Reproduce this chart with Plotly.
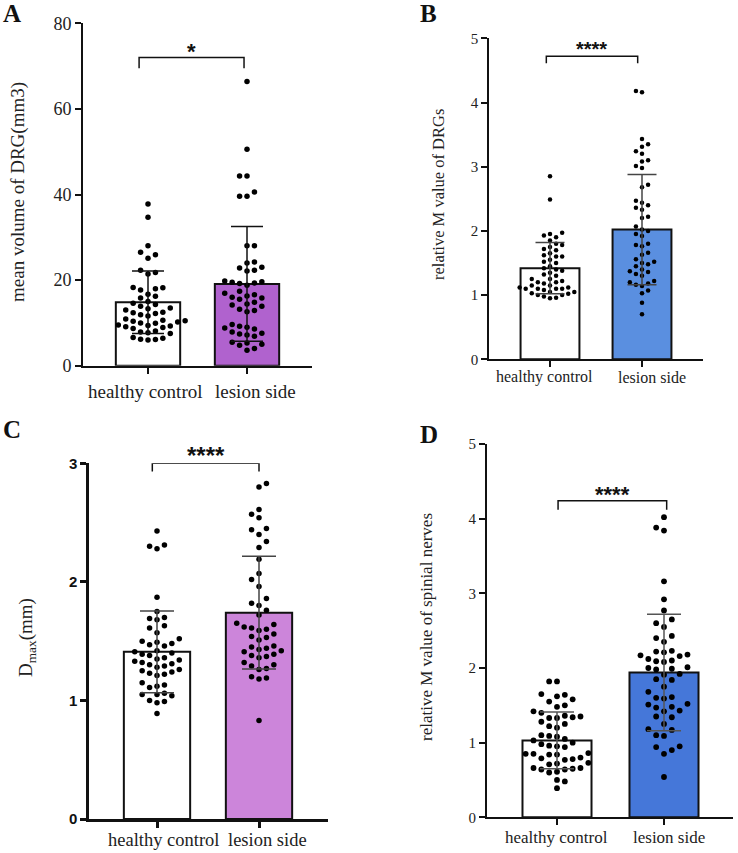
import plotly.graph_objects as go

W, H = 738, 853
categories = ["healthy control", "lesion side"]

# ---------------- data ----------------
a_healthy = [37.8, 34.7, 28.0, 26.5, 25.9, 25.1, 22.3, 21.8, 21.4,
             18.3, 18.2, 18.0, 17.7, 16.7, 16.2, 15.8,
             15.0, 14.6, 14.3, 13.9, 13.5, 13.3, 13.0,
             12.5, 12.4, 12.2, 11.9, 11.6,
             10.9, 10.6, 10.5, 10.4, 10.2, 10.0, 9.9,
             9.5, 9.4, 9.3, 9.1, 8.9, 8.7,
             8.1, 7.9, 7.7, 7.5, 6.6, 6.4, 6.2, 6.1, 6.0]
a_lesion = [66.4, 50.6, 44.3, 44.3, 40.6, 39.6, 39.6, 28.0, 28.0, 24.2, 24.0,
            23.0, 22.8, 22.3, 22.1, 19.8, 19.6, 19.5, 19.3, 19.2, 18.8,
            17.4, 16.9, 16.6, 16.3, 16.0, 15.8, 15.5, 14.8, 14.4, 14.2, 13.9,
            13.2, 12.9, 12.6, 9.6, 9.2, 9.0, 8.8, 8.6, 7.9, 7.6, 7.4, 7.2, 6.9,
            5.5, 5.3, 5.0, 4.8, 4.0, 3.6]
a_mean = [14.8, 19.1]
a_sd = [7.3, 13.4]

b_healthy = [2.85, 2.49, 1.97, 1.95, 1.93, 1.90, 1.85, 1.80, 1.78, 1.75, 1.72,
             1.70, 1.65, 1.62, 1.60, 1.60, 1.55, 1.52, 1.50, 1.45, 1.42, 1.40,
             1.38, 1.35, 1.32, 1.30, 1.25, 1.25, 1.22, 1.20, 1.20, 1.18, 1.15,
             1.15, 1.12, 1.12, 1.10, 1.10, 1.10, 1.10, 1.08, 1.05, 1.05, 1.03,
             1.02, 1.00, 1.00, 0.98, 0.96, 0.95]
b_lesion = [4.18, 4.16, 3.43, 3.35, 3.31, 3.24, 3.20, 3.10, 3.08, 3.01, 2.98,
            2.72, 2.68, 2.47, 2.44, 2.40, 2.36, 2.33, 2.22, 2.20, 2.07, 2.02,
            2.00, 1.95, 1.92, 1.80, 1.78, 1.76, 1.66, 1.63, 1.56, 1.52, 1.50,
            1.48, 1.45, 1.40, 1.37, 1.36, 1.33, 1.30, 1.22, 1.20, 1.18, 1.16,
            1.14, 1.07, 1.03, 0.88, 0.70]
b_mean = [1.42, 2.02]
b_sd = [0.40, 0.86]

c_healthy = [2.43, 2.31, 2.30, 2.28, 1.87, 1.75, 1.70, 1.69, 1.68, 1.63, 1.61,
             1.57, 1.52, 1.50, 1.49, 1.48, 1.47, 1.46, 1.42, 1.41, 1.40, 1.39,
             1.38, 1.36, 1.35, 1.34, 1.33, 1.32, 1.31, 1.30, 1.29, 1.28, 1.26,
             1.25, 1.24, 1.23, 1.22, 1.21, 1.15, 1.13, 1.12, 1.11, 1.06, 1.05,
             1.05, 1.04, 1.00, 0.99, 0.98, 0.89]
c_lesion = [2.83, 2.80, 2.61, 2.57, 2.54, 2.45, 2.44, 2.40, 2.34, 2.29, 2.19,
            2.07, 2.02, 1.96, 1.86, 1.82, 1.80, 1.76, 1.72, 1.65, 1.64, 1.62,
            1.61, 1.60, 1.59, 1.56, 1.54, 1.53, 1.51, 1.46, 1.45, 1.44, 1.43,
            1.42, 1.41, 1.39, 1.38, 1.37, 1.36, 1.32, 1.30, 1.29, 1.27, 1.26,
            1.20, 1.19, 1.18, 0.83]
c_mean = [1.41, 1.74]
c_sd = [0.345, 0.475]

d_healthy = [1.82, 1.82, 1.65, 1.64, 1.62, 1.58, 1.55, 1.50, 1.48, 1.42, 1.40,
             1.36, 1.35, 1.34, 1.33, 1.33, 1.28, 1.25, 1.22, 1.20, 1.10, 1.09,
             1.08, 1.05, 1.03, 1.00, 0.98, 0.96, 0.95, 0.94, 0.86, 0.85, 0.85,
             0.84, 0.84, 0.80, 0.79, 0.78, 0.77, 0.73, 0.72, 0.71, 0.66, 0.66,
             0.65, 0.64, 0.64, 0.61, 0.60, 0.50, 0.48, 0.39]
d_lesion = [4.02, 3.88, 3.84, 3.16, 2.92, 2.77, 2.65, 2.60, 2.55, 2.43, 2.40,
            2.35, 2.23, 2.22, 2.21, 2.18, 2.17, 2.16, 2.12, 2.10, 2.09, 2.08,
            2.01, 2.00, 1.99, 1.98, 1.92, 1.91, 1.85, 1.84, 1.75, 1.68, 1.61,
            1.60, 1.59, 1.52, 1.51, 1.48, 1.47, 1.43, 1.42, 1.35, 1.34, 1.25,
            1.18, 1.17, 1.10, 1.09, 0.95, 0.94, 0.90, 0.85, 0.54]
d_mean = [1.03, 1.94]
d_sd = [0.38, 0.78]

y_titles = ["mean volume of DRG(mm3)", "relative M value of DRGs",
            "D<sub>max</sub>(mm)", "relative M value of spinial nerves"]
sig_labels = ["*", "****", "****", "****"]
sig_bracket_y = [72.0, 4.72, 3.0, 4.24]
sig_tail_y = [69.5, 4.61, 2.93, 4.12]
sig_text_y = [73.5, 4.83, 3.07, 4.32]
y_max = [80, 5, 3, 5]
y_tick_vals = [[0, 20, 40, 60, 80], [0, 1, 2, 3, 4, 5], [0, 1, 2, 3], [0, 1, 2, 3, 4, 5]]
panel_letters = ["A", "B", "C", "D"]

# ---------------- panel geometry / style ----------------
SERIF = "Liberation Serif"
SANS = "Liberation Sans"
panels = [
    dict(data=(a_healthy, a_lesion), mean=a_mean, sd=a_sd,
         ax_left=83, ax_right=312, y_top=23.3, y_bot=365.7, c0=148, c1=247,
         bar_w=0.65, color="#B062CE", err_color="#111111", cap=16, dot=5.5,
         tick_font=dict(family=SERIF, size=18, color="#222"),
         lab_font=dict(family=SERIF, size=19, color="#222"),
         lab_xy=((145, 391.5), (255, 391.5)),
         title_font=dict(family=SERIF, size=19, color="#222"),
         title_xy=(18, 192), letter_xy=(12, 14), axis_w=2,
         sig_font=dict(family=SANS, size=22, color="#111"),
         br_x=(-0.09, 0.97)),
    dict(data=(b_healthy, b_lesion), mean=b_mean, sd=b_sd,
         ax_left=489, ax_right=703, y_top=38.3, y_bot=359.3, c0=550, c1=642,
         bar_w=0.64, color="#5A8FE0", err_color="#444444", cap=14.5, dot=4.5,
         tick_font=dict(family=SERIF, size=15, color="#222"),
         lab_font=dict(family=SERIF, size=16, color="#222"),
         lab_xy=((544, 377), (652, 377)),
         title_font=dict(family=SERIF, size=16.5, color="#222"),
         title_xy=(438, 195), letter_xy=(428, 13), axis_w=1.6,
         sig_font=dict(family=SANS, size=20, color="#111"),
         br_x=(-0.04, 0.953)),
    dict(data=(c_healthy, c_lesion), mean=c_mean, sd=c_sd,
         ax_left=89, ax_right=328, y_top=463.3, y_bot=819, c0=157, c1=259,
         bar_w=0.65, color="#CC85DA", err_color="#444444", cap=17, dot=5.5,
         tick_font=dict(family=SANS, size=15, color="#111", weight="bold"),
         lab_font=dict(family=SERIF, size=18.5, color="#222"),
         lab_xy=((163, 840), (267, 840)),
         title_font=dict(family=SERIF, size=19, color="#222"),
         title_xy=(27, 638), letter_xy=(12, 429), axis_w=2.5,
         sig_font=dict(family=SANS, size=24, color="#111"),
         br_x=(-0.046, 1.0)),
    dict(data=(d_healthy, d_lesion), mean=d_mean, sd=d_sd,
         ax_left=487, ax_right=733, y_top=444, y_bot=817.3, c0=557, c1=664,
         bar_w=0.645, color="#4577D9", err_color="#555555", cap=17, dot=5.8,
         tick_font=dict(family=SERIF, size=15, color="#222"),
         lab_font=dict(family=SERIF, size=17, color="#222"),
         lab_xy=((556, 837), (669, 837)),
         title_font=dict(family=SERIF, size=17, color="#222"),
         title_xy=(426, 627), letter_xy=(429, 434), axis_w=2,
         sig_font=dict(family=SANS, size=22, color="#111"),
         br_x=(0.01, 1.025)),
]


def swarm(vals, ppu_y, ppu_x, step, thresh):
    order = sorted(range(len(vals)), key=lambda i: vals[i])
    placed, offs = [], [0.0] * len(vals)
    flip = 1
    for i in order:
        y = vals[i] * ppu_y
        cands = [0]
        for k in range(1, 12):
            cands += [flip * k, -flip * k]
        for k in cands:
            x = k * step
            if all((x - px) ** 2 + (y - py) ** 2 >= thresh ** 2 for px, py in placed):
                break
        if x != 0:
            flip = -flip
        placed.append((x, y))
        offs[i] = x / ppu_x
    return offs


fig = go.Figure()
layout = dict(template="none", width=W, height=H, margin=dict(l=0, r=0, t=0, b=0, pad=0),
              paper_bgcolor="white", plot_bgcolor="white", showlegend=False)
annotations = []

for p_i, p in enumerate(panels):
    n = "" if p_i == 0 else str(p_i + 1)
    xa, ya = "x" + n, "y" + n
    ppu_x = p["c1"] - p["c0"]
    xmin = -(p["c0"] - p["ax_left"]) / ppu_x
    xmax = 1 + (p["ax_right"] - p["c1"]) / ppu_x
    ppu_y = (p["y_bot"] - p["y_top"]) / y_max[p_i]
    y0p, y1p = 1 - p["y_bot"] / H, 1 - p["y_top"] / H
    x0p, x1p = p["ax_left"] / W, p["ax_right"] / W

    fig.add_trace(go.Bar(x=[0, 1], y=p["mean"], width=p["bar_w"],
                         marker=dict(color=["white", p["color"]],
                                     line=dict(color="#111", width=2)),
                         xaxis=xa, yaxis=ya))
    for g in range(2):
        vals = p["data"][g]
        offs = swarm(vals, ppu_y, ppu_x, step=p["dot"] * 1.35, thresh=p["dot"] * 1.3)
        fig.add_trace(go.Scatter(x=[g + o for o in offs], y=vals, mode="markers",
                                 marker=dict(color="black", size=p["dot"]),
                                 xaxis=xa, yaxis=ya, cliponaxis=False))
    fig.add_trace(go.Scatter(x=[0, 1], y=p["mean"], mode="markers",
                             marker=dict(size=1, opacity=0),
                             error_y=dict(type="data", array=p["sd"], visible=True,
                                          color=p["err_color"], thickness=1.5,
                                          width=p["cap"]),
                             xaxis=xa, yaxis=ya))
    # significance bracket
    bx0, bx1 = p["br_x"]
    fig.add_trace(go.Scatter(x=[bx0, bx0, bx1, bx1],
                             y=[sig_tail_y[p_i], sig_bracket_y[p_i], sig_bracket_y[p_i], sig_tail_y[p_i]],
                             mode="lines", line=dict(color="#111", width=1.5),
                             xaxis=xa, yaxis=ya, cliponaxis=False))
    sx = x0p + ((bx0 + bx1) / 2 - xmin) / (xmax - xmin) * (x1p - x0p)
    sy = y0p + sig_text_y[p_i] / y_max[p_i] * (y1p - y0p)
    annotations.append(dict(x=sx, y=sy, xref="paper", yref="paper",
                            text="<b>%s</b>" % sig_labels[p_i], showarrow=False,
                            font=p["sig_font"], xanchor="center", yanchor="middle"))

    axis_common = dict(showgrid=False, zeroline=False, showline=True, linecolor="#111",
                       linewidth=p["axis_w"], ticks="outside", ticklen=6,
                       tickwidth=p["axis_w"], tickcolor="#111", fixedrange=True,
                       automargin=False)
    layout["xaxis" + n] = dict(domain=[x0p, x1p], range=[xmin, xmax], anchor=ya,
                               tickvals=[0, 1], showticklabels=False, **axis_common)
    layout["yaxis" + n] = dict(domain=[y0p, y1p], range=[0, y_max[p_i]], anchor=xa,
                               tickvals=y_tick_vals[p_i], tickfont=p["tick_font"],
                               **axis_common)
    for c_i, (lx, ly) in enumerate(p["lab_xy"]):
        annotations.append(dict(x=lx / W, y=1 - ly / H, xref="paper", yref="paper",
                                text=categories[c_i], showarrow=False,
                                font=p["lab_font"], xanchor="center", yanchor="middle"))
    tx, ty = p["title_xy"]
    annotations.append(dict(x=tx / W, y=1 - ty / H, xref="paper", yref="paper",
                            text=y_titles[p_i], textangle=-90, showarrow=False,
                            font=p["title_font"], xanchor="center", yanchor="middle"))
    lx, ly = p["letter_xy"]
    annotations.append(dict(x=lx / W, y=1 - ly / H, xref="paper", yref="paper",
                            text="<b>%s</b>" % panel_letters[p_i], showarrow=False,
                            font=dict(family=SERIF, size=25, color="#111"),
                            xanchor="center", yanchor="middle"))

layout["annotations"] = annotations
fig.update_layout(**layout)
# remove the browser's default body margin so the figure starts at the page corner
fig.write_html("out.html", config={"displayModeBar": False},
               post_script="document.body.style.margin='0';document.body.style.padding='0';"
                           "document.documentElement.style.overflow='hidden';")
